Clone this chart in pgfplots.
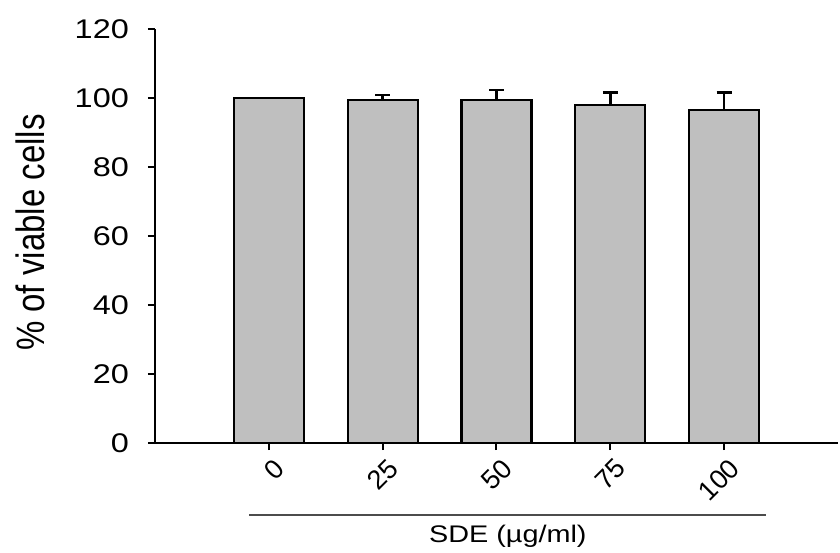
\documentclass[border=0pt]{standalone}
\usepackage{pgfplots}
\pgfplotsset{compat=1.18}
\usetikzlibrary{calc}
\usepackage{fontspec}
\setmainfont{Liberation Sans}
\begin{document}
\begin{tikzpicture}
\useasboundingbox (-155pt,-109pt) rectangle (685pt,443pt);
\begin{axis}[
  scale only axis,
  width=683pt, height=414pt,
  xmin=0, xmax=6, ymin=0, ymax=120,
  axis x line*=bottom, axis y line*=left,
  axis line style={line width=2pt, -},
  xtick={1,2,3,4,5},
  xticklabels={0,25,50,75,100},
  ytick={0,20,40,60,80,100,120},
  tick align=outside, tick pos=left,
  major tick length=7pt,
  tick style={line width=2pt, black},
  /pgf/number format/assume math mode=true,
  xticklabel style={font=\fontsize{27}{30}\selectfont, yshift=-4pt, xshift=4pt, rotate=45, anchor=north east, inner sep=2pt},
  yticklabel style={font=\fontsize{27}{30}\selectfont, inner sep=0pt, xshift=-19pt},
  yticklabel={\scalebox{1.2}[1]{\pgfmathprintnumber{\tick}}},
  ylabel={\scalebox{1}[1.2]{\% of viable cells}},
  every axis y label/.style={at={(axis description cs:-0.183,0.508)}, rotate=90, anchor=center, font=\fontsize{33}{38}\selectfont},
]
\addplot[ybar, bar width=70pt, fill=black!25, draw=black, line width=2.2pt,
  error bars/.cd, y dir=plus, y explicit,
  error bar style={line width=2.4pt, black},
  error mark options={rotate=90, mark size=7.5pt, line width=2.4pt, black}]
  coordinates {
  (1,100) +- (0,0)
  (2,99.4) +- (0,1.5)
  (3,99.4) +- (0,2.9)
  (4,98.0) +- (0,3.6)
  (5,96.6) +- (0,5.0)
};
\coordinate (L) at (axis cs:0.83,0);
\coordinate (R) at (axis cs:5.37,0);
\end{axis}
\draw[line width=2pt, black!70] ([yshift=-72pt]L) -- ([yshift=-72pt]R);
\node[font=\fontsize{24}{28}\selectfont, inner sep=0pt] at ($ (L)!0.5!(R) + (0,-93pt) $) {\scalebox{1.2}[1]{SDE (µg/ml)}};
\end{tikzpicture}
\end{document}
